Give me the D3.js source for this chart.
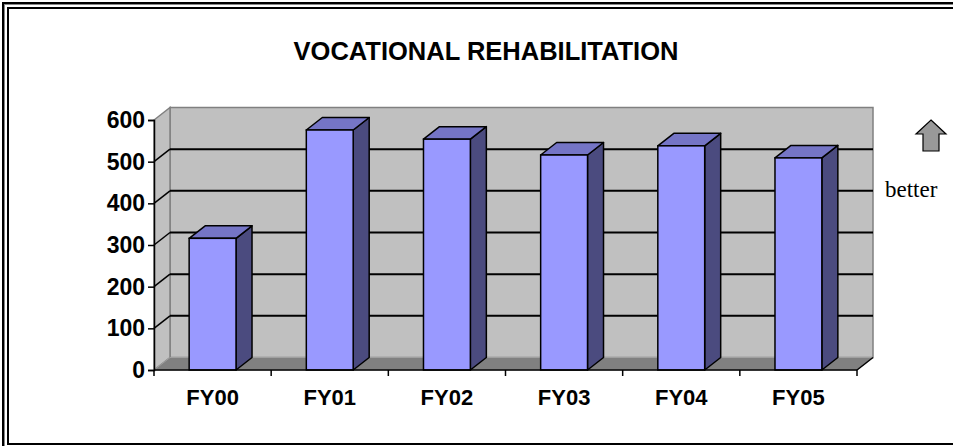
<!DOCTYPE html>
<html>
<head>
<meta charset="utf-8">
<script src="https://cdnjs.cloudflare.com/ajax/libs/d3/7.8.5/d3.min.js"></script>
<style>
body { margin:0; background:#fff; }
svg { display:block; }
</style>
</head>
<body>
<div id="chart-area"></div>
<script>

// chart data
var categories = ["FY00", "FY01", "FY02", "FY03", "FY04", "FY05"];
var values = [316, 576, 554, 516, 538, 509];
var yTicks = [0, 100, 200, 300, 400, 500, 600];
var title = "VOCATIONAL REHABILITATION";

var W = 953, H = 446;
// plot edges (front plane)
var pLeft = 154, pRight = 857, pTop = 120, pBottom = 370;
// depth offset of the 3d walls
var dx = 16, dy = -12.5;

var svg = d3.select("#chart-area")
	.append("svg")
		.attr("width", W)
		.attr("height", H);

// double frame
svg.append("rect")
	.attr("x", 3).attr("y", 3)
	.attr("width", 962).attr("height", 452)
	.attr("fill", "none").attr("stroke", "#000").attr("stroke-width", 2);
svg.append("rect")
	.attr("x", 4.5).attr("y", 4.5)
	.attr("width", 960).attr("height", 450)
	.attr("fill", "none").attr("stroke", "#888").attr("stroke-width", 1);
svg.append("rect")
	.attr("x", 8).attr("y", 8)
	.attr("width", 952).attr("height", 436)
	.attr("fill", "none").attr("stroke", "#000").attr("stroke-width", 2);

var x = d3.scaleBand()
	.domain(categories)
	.range([pLeft, pRight])
	.paddingInner(0.6)
	.paddingOuter(0.3);

var y = d3.scaleLinear()
	.domain([0, 600])
	.range([pBottom, pTop]);

var g = svg.append("g");

// back wall
g.append("rect")
	.attr("x", pLeft + dx).attr("y", pTop + dy)
	.attr("width", pRight - pLeft).attr("height", pBottom - pTop)
	.attr("fill", "#c0c0c0").attr("stroke", "#808080").attr("stroke-width", 1.5);

// left wall
g.append("path")
	.attr("d", "M" + pLeft + "," + pBottom + "L" + pLeft + "," + pTop +
		"L" + (pLeft + dx) + "," + (pTop + dy) + "L" + (pLeft + dx) + "," + (pBottom + dy) + "Z")
	.attr("fill", "#c0c0c0").attr("stroke", "#808080").attr("stroke-width", 1.5);

// floor
g.append("path")
	.attr("d", "M" + pLeft + "," + pBottom + "L" + pRight + "," + pBottom +
		"L" + (pRight + dx) + "," + (pBottom + dy) + "L" + (pLeft + dx) + "," + (pBottom + dy) + "Z")
	.attr("fill", "#808080").attr("stroke", "#a0a0a0").attr("stroke-width", 1);

// gridlines on back wall and left wall
var grid = yTicks.filter(function(d){ return d > 0 && d < 600; });
g.selectAll(".grid")
	.data(grid)
	.enter().append("line")
		.attr("x1", pLeft + dx).attr("x2", pRight + dx)
		.attr("y1", function(d){ return y(d) + dy; })
		.attr("y2", function(d){ return y(d) + dy; })
		.attr("stroke", "#000").attr("stroke-width", 2);
g.selectAll(".sgrid")
	.data(grid)
	.enter().append("line")
		.attr("x1", pLeft).attr("x2", pLeft + dx)
		.attr("y1", function(d){ return y(d); })
		.attr("y2", function(d){ return y(d) + dy; })
		.attr("stroke", "#000").attr("stroke-width", 1.5);

// bars
var bars = g.selectAll(".bar")
	.data(values)
	.enter().append("g");

var bw = x.bandwidth();

bars.append("path")
	.attr("d", function(d, i){
		var x0 = x(categories[i]) + bw, y0 = y(d);
		return "M" + x0 + "," + pBottom + "L" + x0 + "," + y0 +
			"L" + (x0 + dx) + "," + (y0 + dy) + "L" + (x0 + dx) + "," + (pBottom + dy) + "Z";
	})
	.attr("fill", "#4b4b7f").attr("stroke", "#000").attr("stroke-width", 1.5)
	.attr("stroke-linejoin", "round");

bars.append("path")
	.attr("d", function(d, i){
		var x0 = x(categories[i]), y0 = y(d);
		return "M" + x0 + "," + y0 + "L" + (x0 + bw) + "," + y0 +
			"L" + (x0 + bw + dx) + "," + (y0 + dy) + "L" + (x0 + dx) + "," + (y0 + dy) + "Z";
	})
	.attr("fill", "#7575c6").attr("stroke", "#000").attr("stroke-width", 1.5)
	.attr("stroke-linejoin", "round");

bars.append("rect")
	.attr("x", function(d, i){ return x(categories[i]); })
	.attr("y", function(d){ return y(d); })
	.attr("width", bw)
	.attr("height", function(d){ return pBottom - y(d); })
	.attr("fill", "#9999ff").attr("stroke", "#000").attr("stroke-width", 1.5);

// y axis
var yAxis = d3.axisLeft(y)
	.tickValues(yTicks)
	.tickSize(6)
	.tickPadding(3);

var ya = g.append("g")
	.attr("transform", "translate(" + pLeft + ",0)")
	.call(yAxis);
ya.select(".domain").attr("stroke", "#000").attr("stroke-width", 1.5);
ya.selectAll(".tick line").attr("stroke", "#000").attr("stroke-width", 1.5);
ya.selectAll(".tick text")
	.attr("font-family", "Liberation Sans, Arial, sans-serif")
	.attr("font-size", "23px")
	.attr("font-weight", "bold")
	.attr("fill", "#000");

// x axis
var xAxis = d3.axisBottom(x)
	.tickSize(0)
	.tickPadding(0);

var xa = g.append("g")
	.attr("transform", "translate(0," + pBottom + ")")
	.call(xAxis);
xa.select(".domain").remove();
xa.selectAll(".tick text")
	.attr("y", 35)
	.attr("dy", 0)
	.attr("font-family", "Liberation Sans, Arial, sans-serif")
	.attr("font-size", "22px")
	.attr("font-weight", "bold")
	.attr("fill", "#000");

g.append("line")
	.attr("x1", pLeft).attr("x2", pRight)
	.attr("y1", pBottom).attr("y2", pBottom)
	.attr("stroke", "#000").attr("stroke-width", 1.5);
g.append("line")
	.attr("x1", pRight).attr("x2", pRight + dx)
	.attr("y1", pBottom).attr("y2", pBottom + dy)
	.attr("stroke", "#000").attr("stroke-width", 1.5);

// category boundary ticks
var bounds = d3.range(categories.length + 1);
g.selectAll(".xtick")
	.data(bounds)
	.enter().append("line")
		.attr("x1", function(d){ return pLeft + d * x.step(); })
		.attr("x2", function(d){ return pLeft + d * x.step(); })
		.attr("y1", pBottom).attr("y2", pBottom + 6)
		.attr("stroke", "#000").attr("stroke-width", 1.5);

// title
svg.append("text")
	.attr("x", 486)
	.attr("y", 60)
	.attr("text-anchor", "middle")
	.attr("font-family", "Liberation Sans, Arial, sans-serif")
	.attr("font-size", "25.5px")
	.attr("font-weight", "bold")
	.text(title);

// "better" arrow
svg.append("path")
	.attr("d", "M931,120 L946,134 L939,134 L939,151 L923,151 L923,134 L916,134 Z")
	.attr("fill", "#999").attr("stroke", "#000").attr("stroke-width", 1.2);

svg.append("text")
	.attr("x", 885)
	.attr("y", 197)
	.attr("font-family", "Liberation Serif, Times New Roman, serif")
	.attr("font-size", "23px")
	.text("better");

</script>
</body>
</html>
